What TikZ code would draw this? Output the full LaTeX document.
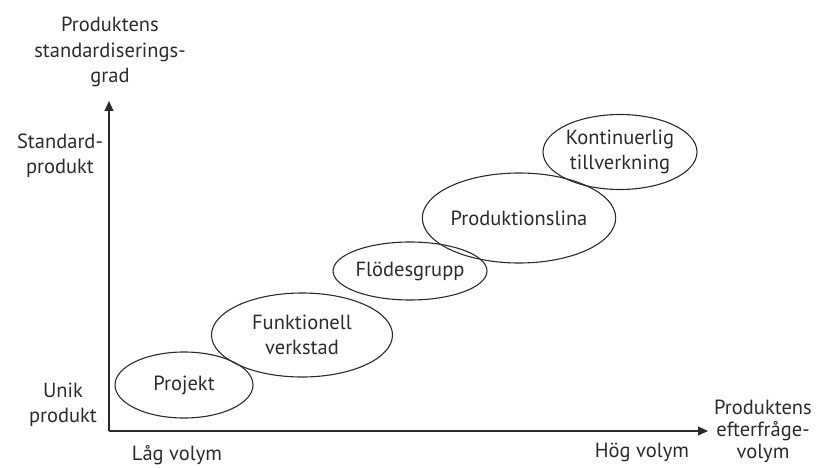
\documentclass[tikz,border=0pt]{standalone}
\usepackage{fontspec}
\setmainfont{PT Sans}
\usetikzlibrary{shapes.geometric,arrows.meta}
\definecolor{ink}{HTML}{2B2B2B}
\begin{document}
\begin{tikzpicture}[x=1pt,y=-1pt,
  lbl/.style={text=ink,font=\fontsize{20.5}{25.5}\selectfont,align=center,inner sep=0pt},
  ell/.style={ellipse,draw=ink,line width=1.1pt,inner sep=0pt,text=ink,font=\fontsize{20.5}{25}\selectfont,align=center},
  axis/.style={draw=ink,line width=1.1pt,-{Triangle[length=10pt,width=9pt]}}]
\useasboundingbox (0,0) rectangle (816,468);
\coordinate (o) at (109,431);
\coordinate (ytop) at (109,101);
\coordinate (xend) at (708,431);
\draw[axis] (o) -- (ytop);
\draw[axis] (o) -- (xend);
\node[lbl] (ylab) at (110,52) {Produktens\\standardiserings-\\grad};
\node[lbl] (std) at (60,156) {Standard-\\produkt};
\node[lbl] (unik) at (63,405) {Unik\\produkt};
\node[lbl] (lag) at (177,455) {Låg volym};
\node[lbl] (hog) at (642,452) {Hög volym};
\node[lbl,font=\fontsize{20.5}{22}\selectfont] (xlab) at (763,431) {Produktens\\efterfråge-\\volym};
\node[ell,minimum width=138pt,minimum height=66pt] (proj) at (184,385) {Projekt};
\node[ell,minimum width=181pt,minimum height=84pt] (funk) at (302,335) {Funktionell\\verkstad};
\node[ell,minimum width=135pt,minimum height=58pt] (flod) at (410,271) {Flödesgrupp};
\node[ell,minimum width=179pt,minimum height=90pt] (prod) at (519,218) {Produktionslina};
\node[ell,minimum width=154pt,minimum height=75pt] (kont) at (620,152) {Kontinuerlig\\tillverkning};
\end{tikzpicture}
\end{document}
